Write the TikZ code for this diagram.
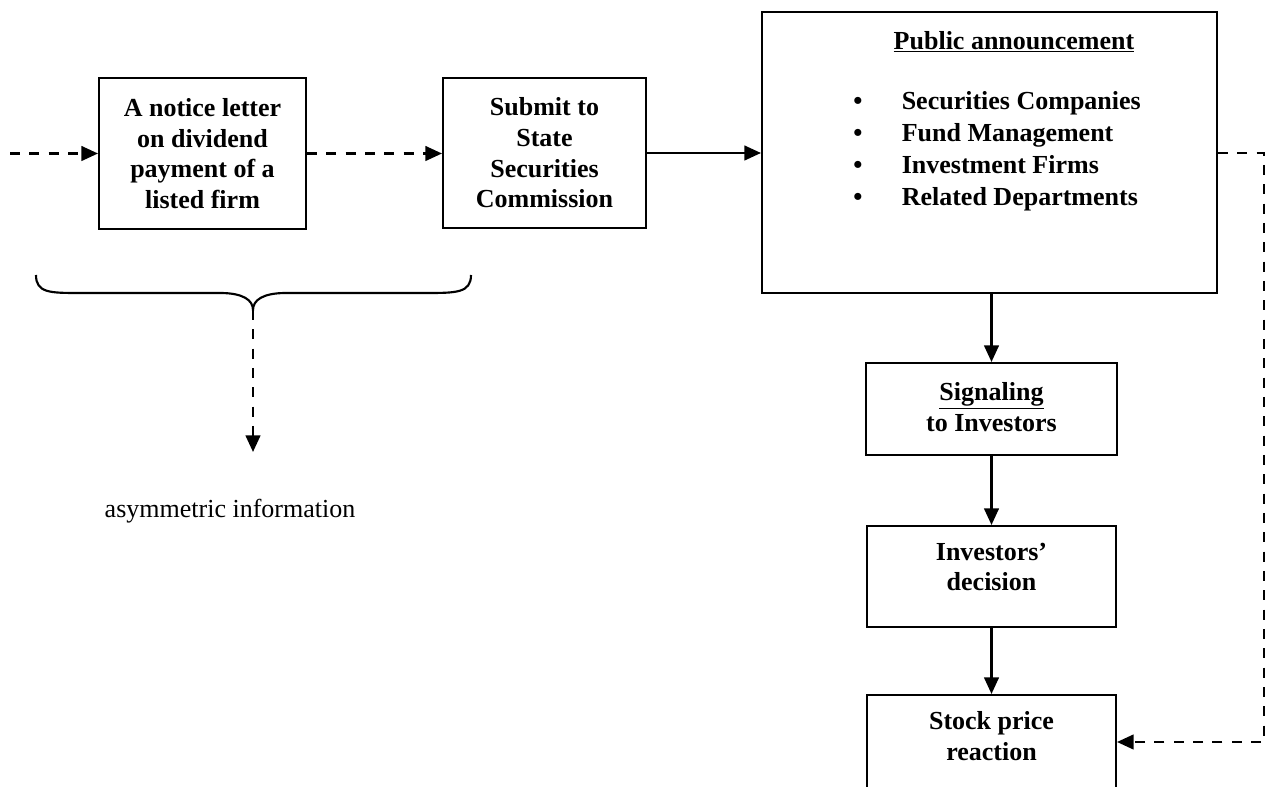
\documentclass[tikz,border=0pt]{standalone}
\usepackage{fontspec}
\setmainfont{Liberation Serif}
\usetikzlibrary{arrows.meta}
\begin{document}
\begin{tikzpicture}[x=0.75pt,y=-0.75pt,
  conn/.style={line width=1.8pt,-{Triangle[length=12.5pt,width=11pt]}},
  dconn/.style={conn,dash pattern=on 7.5pt off 7pt},
  box/.style={draw,line width=1.5pt,inner sep=0pt,align=center,font=\fontsize{19.5}{23}\selectfont\bfseries},
  txt/.style={inner sep=0pt,align=center,font=\fontsize{19.5}{23}\selectfont\bfseries}]
\useasboundingbox (0,0) rectangle (1268,787);
\clip (0,0) rectangle (1268,787);
% boxes
\node[box,minimum width=155.25pt,minimum height=113.25pt] (b1) at (202.5,153.5) {A notice letter\\on dividend\\payment of a\\listed firm};
\node[box,minimum width=152.25pt,minimum height=112.5pt] (b2) at (544.5,153) {Submit to\\State\\Securities\\Commission};
\node[box,minimum width=341.25pt,minimum height=210.75pt] (b3) at (989.5,152.5) {};
\node[txt] (ttl) at (1014,42) {\underline{Public announcement}};
\node[txt,align=left,anchor=west,font=\fontsize{19.5}{24}\selectfont\bfseries] (lst) at (853,151.5)
  {\makebox[36.4pt][l]{\textbullet}Securities Companies\\
   \makebox[36.4pt][l]{\textbullet}Fund Management\\
   \makebox[36.4pt][l]{\textbullet}Investment Firms\\
   \makebox[36.4pt][l]{\textbullet}Related Departments};
\node[box,minimum width=188.25pt,minimum height=69pt] (sig) at (991.5,409) {};
\node[txt] (sigt) at (991.5,407) {\underline{Signaling}\\to Investors};
\node[box,minimum width=186.75pt,minimum height=75.75pt] (inv) at (991.5,576.5) {};
\node[txt] (invt) at (991.5,567) {Investors’\\decision};
\node[box,minimum width=186.75pt,minimum height=97.5pt] (stock) at (991.5,760) {};
\node[txt] (stockt) at (991.5,736) {Stock price\\reaction};
% connectors
\coordinate (start) at (10,153.5);
\draw[dconn] (start) -- (b1.west);
\draw[dconn] (b1.east) -- (b1.east -| b2.west);
\draw[conn] (b2.east) -- (b2.east -| b3.west);
\draw[conn] (sig.north |- b3.south) -- (sig.north);
\draw[conn] (sig.south) -- (inv.north);
\draw[conn] (inv.south) -- (stock.north);
\coordinate (rt) at (1264,153);
\coordinate (rb) at (1264,742);
\draw[dconn] (b3.east |- rt) -- (rt) -- (rb) -- (stock.east |- rb);
% brace
\coordinate (tip) at (253,310);
\draw[line width=1.6pt] (36,275) .. controls (36,293) and (50,293) .. (80,293) -- (220,293)
  .. controls (243,293) and (253,300) .. (tip)
  .. controls (253,300) and (263,293) .. (286,293) -- (426,293)
  .. controls (456,293) and (471,293) .. (471,275);
\coordinate (aend) at (253,452);
\draw[dconn] (tip) -- (aend);
\node[inner sep=0pt,font=\fontsize{19.5}{23}\selectfont] (asym) at (230,511) {asymmetric information};
\end{tikzpicture}
\end{document}
